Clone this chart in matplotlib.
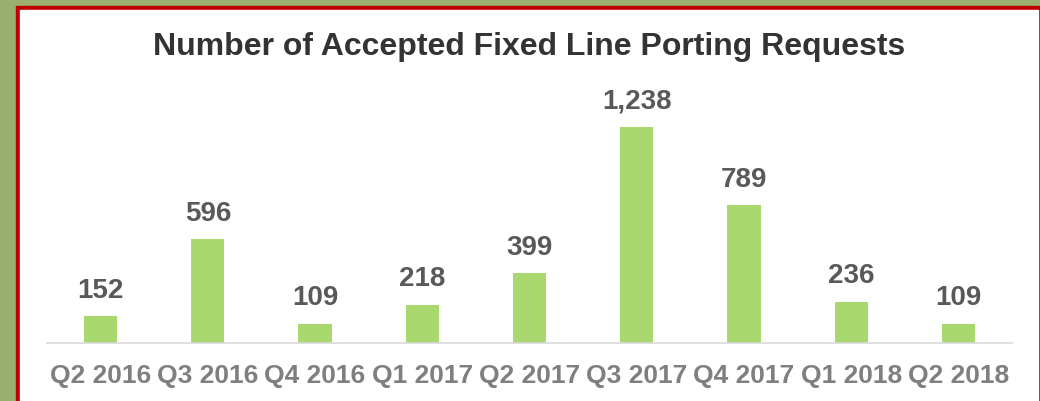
import matplotlib.pyplot as plt
from matplotlib.patches import Rectangle

quarters = ["Q2 2016", "Q3 2016", "Q4 2016", "Q1 2017", "Q2 2017",
            "Q3 2017", "Q4 2017", "Q1 2018", "Q2 2018"]
requests = [152, 596, 109, 218, 399, 1238, 789, 236, 109]

plt.rcParams['font.family'] = ['Liberation Sans', 'DejaVu Sans']

W, H = 1040, 401
fig = plt.figure(figsize=(W / 100, H / 100), dpi=100)

# green page, red frame, white panel (pixel coords, top-down)
def px_rect(x0, y0, x1, y1, color):
    fig.patches.append(Rectangle((x0 / W, 1 - y1 / H), (x1 - x0) / W, (y1 - y0) / H,
                                 transform=fig.transFigure, color=color, zorder=-10))

px_rect(0, 0, W, H, "#9bb06f")
px_rect(16, 6, 1039, H, "#c00000")
px_rect(20, 10, 1038, H, "white")

ax = fig.add_axes([47 / W, 1 - 343 / H, (1012 - 47) / W, (343 - 90) / H])
ax.patch.set_alpha(0)

x = range(len(quarters))
bars = ax.bar(x, requests, width=0.31, color="#a9d86e")
ax.set_xlim(-0.5, len(quarters) - 0.5)
ax.set_ylim(0, 1450)

for b, v in zip(bars, requests):
    ax.annotate(f"{v:,}", (b.get_x() + b.get_width() / 2, v), xytext=(0, 9),
                textcoords="offset points", ha="center", va="bottom",
                fontsize=20, fontweight="bold", color="#595959")

ax.set_xticks(list(x))
ax.set_xticklabels(quarters, fontsize=19, fontweight="bold", color="#7f7f7f")
ax.tick_params(axis="x", length=0, pad=15)
ax.set_yticks([])
for s in ["left", "right", "top"]:
    ax.spines[s].set_visible(False)
ax.spines["bottom"].set_color("#d9d9d9")
ax.spines["bottom"].set_linewidth(1.2)

fig.text(0.509, 1 - 47 / H, "Number of Accepted Fixed Line Porting Requests",
         ha="center", va="center", fontsize=23, fontweight="bold", color="#333333")

fig.savefig("out.png", dpi=100)
